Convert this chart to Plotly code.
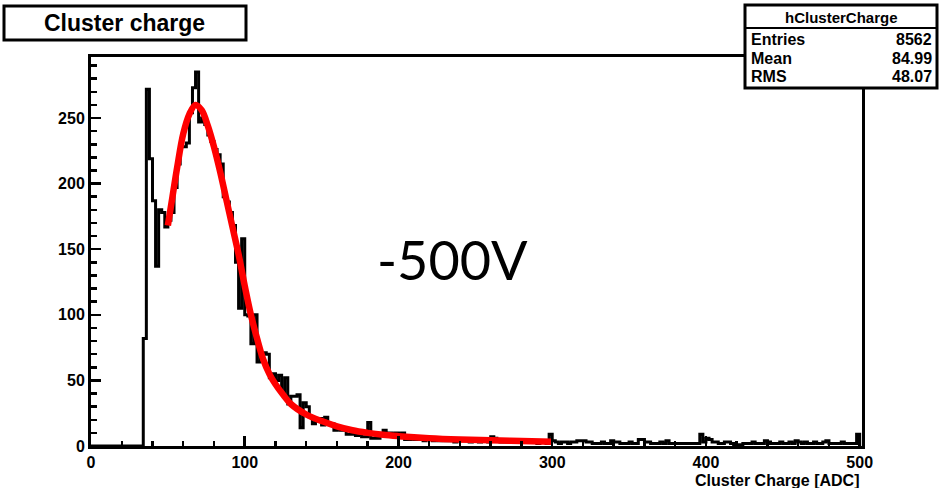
import numpy as np
import plotly.graph_objects as go

# ---------------- data ----------------
bin_width = 2
x_min, x_max = 0, 500

# bins 0..32 are empty
counts_empty = [0] * 17            # bins starting 0,2,...,32
# bins starting 34 .. 156
counts_peak = [82, 272, 219, 187, 137, 180, 178, 167, 172, 178,   # 34-52
               197, 215, 228, 228, 231, 254, 273, 285, 247, 250,  # 54-72
               245, 237, 232, 226, 222, 215, 190, 186, 178, 168,  # 74-92
               140, 105, 158, 100, 99, 78, 100, 64, 70, 71,       # 94-112
               70, 52, 55, 50, 54, 40, 52, 32, 38, 38,            # 114-132
               39, 14, 33, 30, 22, 17, 19, 21, 16, 22,            # 134-152
               17, 17]                                            # 154-156
# bins starting 158 .. 298
counts_mid = [12, 13, 12, 12, 9, 9, 9, 8, 9, 7,                  # 158-176
              7, 18, 6, 6, 6, 8, 12, 10, 10, 9,                  # 178-196
              10, 9, 10, 5, 5, 6, 5, 6, 5, 4,                    # 198-216
              6, 5, 4, 5, 4, 6, 4, 5, 4, 3,                      # 218-236
              5, 4, 5, 4, 3, 4, 4, 3, 5, 4,                      # 238-256
              3, 7, 6, 4, 3, 4, 3, 4, 3, 3,                      # 258-276
              5, 4, 3, 3, 4, 3, 2, 3, 3, 2,                      # 278-296
              9]                                                 # 298
# bins starting 300 .. 498
counts_tail = [4, 3, 2, 3, 3, 2, 3, 3, 4, 4,
               4, 3, 3, 2, 2, 2, 3, 2, 2, 4,
               3, 3, 2, 2, 2, 3, 2, 2, 5, 5,
               3, 3, 2, 2, 2, 3, 2, 4, 2, 2,
               2, 2, 2, 2, 2, 2, 2, 2, 9, 3,
               6, 5, 3, 3, 2, 2, 3, 3, 2, 1,
               1, 1, 2, 2, 2, 3, 2, 2, 2, 4,
               3, 2, 2, 2, 3, 2, 2, 3, 2, 4,
               3, 2, 3, 2, 2, 3, 2, 2, 3, 4,
               2, 2, 2, 2, 3, 2, 2, 2, 2, 9]

# fitted curve (red)
fit_x = [50, 53, 56, 60, 64, 68, 72, 76, 80, 84, 88, 92, 96, 100, 104, 108,
         112, 116, 120, 125, 130, 140, 150, 160, 170, 180, 190, 200, 220,
         240, 260, 280, 300]
fit_y = [168, 190, 212, 238, 253, 260, 256, 244, 228, 209, 188, 167, 146,
         122, 100, 82, 66, 55, 47, 39, 32, 24, 19, 15, 12, 10, 8.5, 7.5, 6,
         5, 4.3, 3.8, 3.3]

x_ticks = [0, 100, 200, 300, 400, 500]
y_ticks = [0, 50, 100, 150, 200, 250]

stats_title = "hClusterCharge"
stats_names = ["Entries", "Mean", "RMS"]
stats_values = ["8562", "84.99", "48.07"]

# ---------------- build histogram outline ----------------
counts = counts_empty + counts_peak + counts_mid + counts_tail
edges = np.arange(x_min, x_max + bin_width, bin_width)
n_bins = len(edges) - 1
counts = (counts + [0] * n_bins)[:n_bins]

hx = list(edges[:-1]) + [edges[-1], edges[-1]]
hy = list(counts) + [counts[-1], 0]

fig = go.Figure()
fig.add_trace(go.Scatter(x=hx, y=hy, mode="lines", line_shape="hv",
                         line=dict(color="black", width=3),
                         hoverinfo="skip", showlegend=False))
fig.add_trace(go.Scatter(x=fit_x, y=fit_y, mode="lines", line_shape="spline",
                         line=dict(color="#ff0000", width=6.5),
                         hoverinfo="skip", showlegend=False))

FONT = "Liberation Sans, Arial, sans-serif"
L, R, T, B = 91, 77, 57, 42
W, H = 939, 488
pw, ph = W - L - R, H - T - B


def px2x(p):
    return (p - L) / pw


def py2y(p):
    return (H - B - p) / ph


axis_common = dict(showline=True, linecolor="black", linewidth=3, mirror=True,
                   ticks="inside", tickcolor="black", tickwidth=2.5,
                   showgrid=False, zeroline=False,
                   tickfont=dict(family=FONT, size=16, color="black", weight="bold"))

fig.update_xaxes(range=[0, 501.5], tickvals=x_ticks, ticklen=10,
                 minor=dict(ticks="inside", dtick=20, ticklen=5, tickwidth=2.5,
                            tickcolor="black", showgrid=False),
                 **axis_common)
fig.update_yaxes(range=[0, 296.5], tickvals=y_ticks, ticklen=10,
                 minor=dict(ticks="inside", dtick=10, ticklen=6, tickwidth=2.5,
                            tickcolor="black", showgrid=False),
                 **axis_common)

shapes = [
    # title box
    dict(type="rect", xref="paper", yref="paper", layer="above",
         x0=px2x(4), x1=px2x(246), y0=py2y(40), y1=py2y(6),
         line=dict(color="black", width=3), fillcolor="white"),
    # stats box
    dict(type="rect", xref="paper", yref="paper", layer="above",
         x0=px2x(745), x1=px2x(937), y0=py2y(88), y1=py2y(5),
         line=dict(color="black", width=3), fillcolor="white"),
    dict(type="line", xref="paper", yref="paper", layer="above",
         x0=px2x(745), x1=px2x(937), y0=py2y(28), y1=py2y(28),
         line=dict(color="black", width=2)),
]

annotations = [
    dict(text="<b>Cluster charge</b>", xref="paper", yref="paper",
         x=px2x(124), y=py2y(23), xanchor="center", yanchor="middle",
         showarrow=False, font=dict(family=FONT, size=23, color="black")),
    dict(text="<b>%s</b>" % stats_title, xref="paper", yref="paper",
         x=px2x(841), y=py2y(17), xanchor="center", yanchor="middle",
         showarrow=False, font=dict(family=FONT, size=15, color="black")),
    dict(text="<b>Cluster Charge [ADC]</b>", xref="paper", yref="paper",
         x=px2x(861), y=py2y(480), xanchor="right", yanchor="middle",
         showarrow=False, font=dict(family=FONT, size=16, color="black")),
    dict(text="-500V", xref="paper", yref="paper",
         x=px2x(452), y=py2y(259), xanchor="center", yanchor="middle",
         showarrow=False, font=dict(family="Lato, Open Sans, sans-serif",
                                    size=54, color="black")),
]
for i, (name, val) in enumerate(zip(stats_names, stats_values)):
    yy = py2y(39 + 19 * i)
    annotations.append(dict(text="<b>%s</b>" % name, xref="paper", yref="paper",
                            x=px2x(749), y=yy, xanchor="left", yanchor="middle",
                            showarrow=False,
                            font=dict(family=FONT, size=16, color="black")))
    annotations.append(dict(text="<b>%s</b>" % val, xref="paper", yref="paper",
                            x=px2x(934), y=yy, xanchor="right", yanchor="middle",
                            showarrow=False,
                            font=dict(family=FONT, size=16, color="black")))

fig.update_layout(width=W, height=H, margin=dict(l=L, r=R, t=T, b=B),
                  paper_bgcolor="white", plot_bgcolor="white",
                  shapes=shapes, annotations=annotations, showlegend=False)

fig.write_html("out.html",
               config={"displayModeBar": False, "staticPlot": True},
               post_script="document.body.style.margin='0px';"
                           "document.body.style.overflow='hidden';")
